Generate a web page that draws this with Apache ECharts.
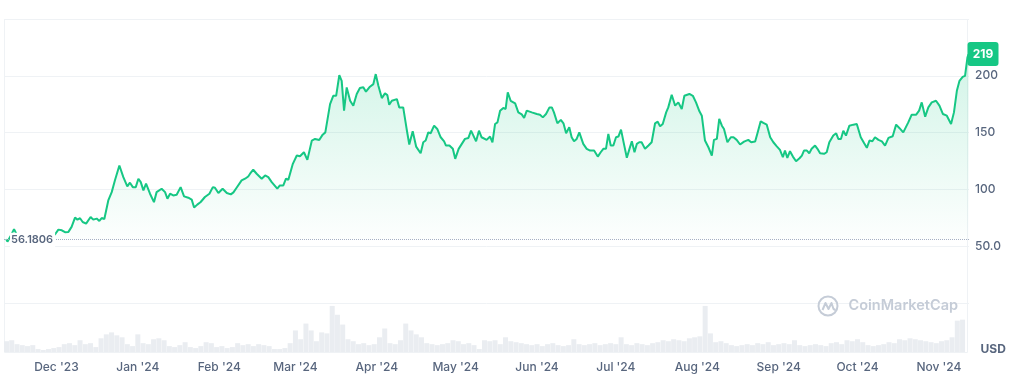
<!DOCTYPE html>
<html><head><meta charset="utf-8">
<script src="https://cdn.jsdelivr.net/npm/echarts@6/dist/echarts.min.js"></script>
<style>html,body{margin:0;padding:0;background:#fff}#c{width:1024px;height:381px}</style>
</head><body><div id="c"></div>
<script>
// ---- data ----
const startDate = [2023, 10, 12];           // day 0 = 12 Nov 2023
const spanDays = 365.5;
const basePrice = 56.1806;
const lastPriceLabel = '219';
const currencyLabel = 'USD';
const brandLabel = 'CoinMarketCap';
const monthNames = ['Jan','Feb','Mar','Apr','May','Jun','Jul','Aug','Sep','Oct','Nov','Dec'];
const yTickLabels = {50:'50.0', 100:'100', 150:'150', 200:'200'};

// price: day offsets (from startDate) and values
const priceDays = [
  0.8,1.3,2.3,3.8,4.9,6.8,8.7,10.6,12.5,14.4,16.3,18.2,
  19.3,20.6,21.9,23.1,24.4,25.6,26.9,27.8,28.8,29.8,31.1,32.8,33.8,35.1,36.1,37.0,38.0,39.5,40.8,42.0,
  43.7,45.2,46.7,47.7,48.8,49.9,50.9,51.8,52.8,53.8,55.3,56.8,57.8,59.7,61.0,61.9,62.9,64.1,65.4,66.9,68.2,69.8,71.1,72.0,73.2,
  74.5,76.1,77.8,79.1,79.9,81.2,82.8,84.4,85.9,86.9,88.1,90.0,91.3,92.5,93.2,94.4,95.7,97.6,98.9,100.1,
  101.4,103.5,104.5,105.8,106.8,107.7,109.4,110.9,112.1,113.6,114.9,116.6,117.8,119.4,120.7,121.7,123.5,124.7,125.8,127.0,
  127.9,128.8,129.8,131.1,132.3,133.6,134.8,136.1,137.1,138.6,
  139.9,140.8,141.8,143.1,144.3,145.2,145.9,146.9,148.8,149.7,151.2,152.5,153.5,154.8,156.1,157.8,158.8,159.7,160.7,161.6,
  162.9,164.1,165.4,166.7,167.4,168.7,170.0,170.9,172.2,173.4,174.6,175.9,176.9,178.8,179.9,180.9,182.8,184.1,185.0,186.0,
  186.9,187.9,189.1,190.0,190.8,191.9,193.6,
  194.8,196.1,197.0,198.0,199.9,201.8,203.0,204.1,205.3,206.6,207.5,208.3,209.6,210.9,211.9,212.9,214.1,215.0,215.9,216.9,
  217.9,219.4,220.7,222.0,223.5,224.9,226.0,227.0,228.0,228.9,229.8,230.8,231.8,232.7,233.7,234.8,235.9,236.9,237.8,238.8,
  239.7,240.6,241.5,242.8,244.1,245.3,246.6,247.6,248.5,249.5,250.8,251.6,252.9,254.2,255.4,256.7,257.7,
  259.6,260.9,262.1,263.4,264.3,265.5,266.8,268.1,268.9,270.0,270.9,271.9,272.7,274.0,275.3,276.3,277.5,278.8,280.3,281.9,
  283.0,284.5,285.3,286.6,287.6,288.9,290.2,291.4,292.7,293.9,295.0,295.8,296.7,297.7,298.8,300.0,301.3,302.2,303.0,304.1,
  305.0,305.9,307.2,308.1,309.1,310.6,311.6,312.6,314.1,315.2,316.0,317.0,317.9,318.9,
  320.2,321.7,323.0,324.5,325.8,326.8,327.8,328.9,329.9,331.2,332.5,333.7,335.0,336.6,337.9,339.1,340.6,342.5,343.8,345.5,
  346.6,347.6,348.9,350.1,351.4,353.0,354.3,355.6,357.1,358.7,359.8,360.9,361.9,363.1,364.0,364.9,365.3
];
const prices = [
  56.2,54,58,65,60,58,57,58,57,58,59,60,
  60.3,64.6,64,62.3,62.6,67,75.2,73.4,74.6,71.3,69.9,75.7,73.4,74.3,72.2,74.8,74,90.3,97.6,107.9,
  121,110.8,102.6,105.9,102,102,109.4,106.4,99.1,105,96.2,88.8,97.6,100.6,97.6,91.8,96.2,94.7,95.3,102,93.9,92.7,91,84,86.6,
  88.9,93.3,96.2,102,101.5,96.8,100.6,96.8,95.6,97.4,101.5,107.9,109.4,111.4,113.8,117.3,113.8,109.4,112.3,110.8,
  106.4,100.6,103.5,103.5,109.4,108.5,122.5,129.8,129.2,132.7,126,143,144.4,143.5,148.2,150.2,175.1,182.4,182.4,200.5,
  195.6,169.3,189.8,178,173.7,184,189.2,190,186,190.4,
  192.7,201.5,191.2,180.4,184.5,183,174.5,178,179.5,172.2,172.2,153.2,139.5,151.2,137.7,131.8,141.5,143,150.2,149.4,
  156.1,153.2,145.9,142.3,138.6,138.6,135.7,126.9,135.7,140.1,144.5,145.3,151.7,142.3,151.7,145.9,143.6,146.5,141.5,157.6,
  159,169.3,171.7,170.8,185.4,178,175.7,
  167.8,166,163,169.3,167.8,166.4,165.8,163.4,166.4,172.2,172.2,167.8,158.2,161.2,158.2,149.4,154.7,145.9,142.3,144.4,
  150.2,140.1,135.7,134.2,134.2,128.9,132.7,135.7,135.7,148.8,138.6,138.6,145.9,146.5,152.6,140.1,127.8,135.7,142.3,132.7,
  140.1,141.5,141.5,135.7,138.6,141.5,158.2,159.6,155.5,157.6,167.8,172.2,183.3,173.7,176.6,170.8,182.4,
  184,182.4,176.6,168.7,164.9,143,137.1,129.8,143.6,144.5,162,156.1,153.2,141.5,145.9,145.9,143.6,139.5,142.1,143.6,
  141.5,142.1,148.8,159.9,158.5,157,145.9,141.5,137.9,134.8,128.3,134.2,127.8,133.6,128.9,124.8,127.4,129.8,134.2,134.2,
  131.8,135.7,138.6,135.7,131.8,131.3,132.7,141.5,147.4,149.4,144.4,144.4,151.7,147.4,
  156.1,157,157.6,145.9,140.6,136.6,143,142.4,145.9,143.6,142.3,138.6,145.3,146.8,157,154.1,150.2,159,165.8,165.8,
  169.3,176.6,164,172.2,176.6,178,173.7,166.4,164.9,157.6,167.8,186.8,195.6,199.1,200,216,219
];

// volume: one bar every 2 days from day 0 (relative units)
const volumeStepDays = 2;
const volumes = [
  11,12,8,7,6,7,3,2,3,4,
  5,8,9,7,12,8,9,5,14,18,
  20,17,15,8,6,18,9,8,13,14,
  12,6,5,7,10,5,4,6,10,9,
  5,6,4,5,9,7,8,6,8,7,
  6,3,3,4,9,22,13,29,22,11,
  20,19,47,38,28,13,11,8,9,7,
  8,15,24,9,8,12,29,22,18,15,
  9,8,7,8,9,12,11,8,9,7,
  3,12,11,12,8,15,11,10,9,8,
  7,8,6,8,9,7,6,7,13,8,
  7,8,9,7,8,9,8,15,8,7,
  9,8,7,9,10,12,11,13,12,11,
  14,15,16,47,19,10,11,9,7,6,
  7,8,7,9,8,10,7,8,9,8,
  12,7,6,7,8,7,6,9,10,8,
  12,11,13,10,7,6,7,8,10,9,
  13,12,14,13,12,11,10,9,11,12,
  15,32,33
];

// ---- chart ----
const DAY = 86400000;
const t0 = new Date(startDate[0], startDate[1], startDate[2]).getTime();
const toTime = d => t0 + d * DAY;
const xMin = toTime(0), xMax = toTime(spanDays);
const priceData = priceDays.map((d, i) => [toTime(d), prices[i]]);
const volData = volumes.map((v, i) => [toTime(i * volumeStepDays), v]);

const GREEN = '#16c784', GREY = '#58667e', FONT = 'Inter';
const chart = echarts.init(document.getElementById('c'), null, {renderer: 'canvas'});

const gridL = 4, gridR = 55;
chart.setOption({
  animation: false,
  backgroundColor: '#fff',
  grid: [
    {left: gridL, right: gridR, top: 19, bottom: 78},
    {left: gridL, right: gridR, top: 303, bottom: 29}
  ],
  xAxis: [
    {type: 'time', gridIndex: 0, min: xMin, max: xMax, show: false, splitLine: {show: false}},
    {type: 'time', gridIndex: 1, min: xMin, max: xMax, splitNumber: 12,
     minInterval: 28 * DAY, maxInterval: 31 * DAY,
     axisLine: {show: false}, axisTick: {show: false}, splitLine: {show: false},
     axisLabel: {margin: 9, color: GREY, fontSize: 12, fontWeight: 500, fontFamily: FONT,
       hideOverlap: false,
       formatter: v => { const d = new Date(v); return monthNames[d.getMonth()] + " '" + String(d.getFullYear()).slice(2); }}}
  ],
  yAxis: [
    {type: 'value', gridIndex: 0, position: 'right', min: 0, max: 250, interval: 50,
     axisLine: {show: false}, axisTick: {show: false},
     splitLine: {lineStyle: {color: '#eff2f5', width: 1}},
     axisLabel: {margin: 6, color: GREY, fontSize: 12, fontWeight: 500, fontFamily: FONT,
       formatter: v => yTickLabels[v] || ''}},
    {type: 'value', gridIndex: 1, min: 0, max: 50, show: false, splitLine: {show: false}}
  ],
  series: [
    {type: 'line', xAxisIndex: 0, yAxisIndex: 0, data: priceData, showSymbol: false, z: 3,
     lineStyle: {width: 2, color: GREEN}, itemStyle: {color: GREEN},
     areaStyle: {origin: basePrice, color: new echarts.graphic.LinearGradient(0, 0, 0, 1, [
       {offset: 0, color: 'rgba(22,199,132,0.28)'}, {offset: 1, color: 'rgba(22,199,132,0.01)'}])},
     markLine: {silent: true, symbol: 'none', label: {show: false},
       lineStyle: {type: 'dotted', color: '#a6b0c3', width: 1},
       data: [{yAxis: basePrice}]}},
    {type: 'bar', xAxisIndex: 1, yAxisIndex: 1, data: volData, barWidth: 5,
     itemStyle: {color: '#eaedf1'}}
  ]
});

const pBase = chart.convertToPixel({gridIndex: 0}, [xMin, basePrice]);
const pLast = chart.convertToPixel({gridIndex: 0}, [xMax, prices[prices.length - 1]]);
const pTop = chart.convertToPixel({gridIndex: 0}, [xMin, 250]);
const pBot = chart.convertToPixel({gridIndex: 1}, [xMax, 0]);
const pVolTop = chart.convertToPixel({gridIndex: 1}, [xMax, 50]);
const gx0 = Math.round(pTop[0]) + 0.5, gx1 = Math.round(pBot[0]) + 0.5;
const markColor = '#c5ccd7';

chart.setOption({
  graphic: [
    {type: 'rect', z: 0, silent: true,
     shape: {x: gx0, y: Math.round(pTop[1]) + 0.5, width: gx1 - gx0, height: Math.round(pBot[1]) - Math.round(pTop[1])},
     style: {fill: 'none', stroke: '#eff2f5', lineWidth: 1}},
    {type: 'text', z: 20, silent: true, x: pBase[0] + 6, y: pBase[1] + 1,
     style: {text: basePrice.toFixed(4), fill: GREY, font: '600 11px Inter', verticalAlign: 'middle',
       backgroundColor: '#fff', padding: [2, 2, 2, 1]}},
    {type: 'group', z: 20, silent: true, x: gx1, y: Math.round(pLast[1]) - 12,
     children: [
       {type: 'rect', shape: {x: 0, y: 0, width: 31, height: 24, r: 3}, style: {fill: GREEN}},
       {type: 'text', x: 15.5, y: 12, style: {text: lastPriceLabel, fill: '#fff', font: 'bold 12px Inter',
         align: 'center', verticalAlign: 'middle'}}
     ]},
    {type: 'text', z: 20, silent: true, x: gx1 + 13, y: pBot[1] - 3,
     style: {text: currencyLabel, fill: GREY, font: 'bold 12px Inter', verticalAlign: 'middle'}},
    {type: 'group', z: 1, silent: true, x: gx1 - 150, y: pVolTop[1] + 3,
     children: [
       {type: 'circle', shape: {cx: 10.5, cy: 0, r: 9.5}, style: {fill: 'none', stroke: markColor, lineWidth: 2}},
       {type: 'polyline', shape: {points: [[5, 4], [8, -3], [11, 3], [14, -3], [16, 3], [18, 4]]},
        style: {fill: 'none', stroke: markColor, lineWidth: 2, lineJoin: 'round'}},
       {type: 'text', x: 31, y: 0, style: {text: brandLabel, fill: markColor, font: '600 14.5px Inter', verticalAlign: 'middle'}}
     ]}
  ]
});
</script>
</body></html>
